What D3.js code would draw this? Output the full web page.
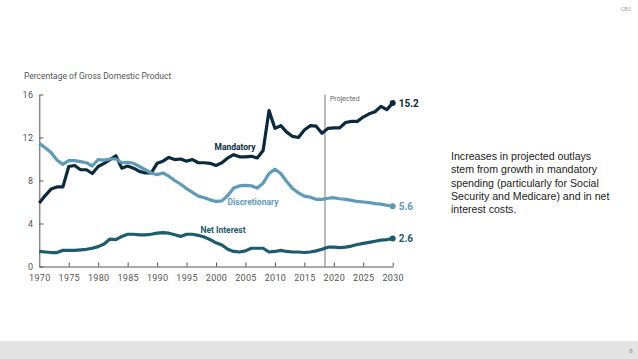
<!DOCTYPE html>
<html>
<head>
<meta charset="utf-8">
<script src="https://cdn.jsdelivr.net/npm/d3@7"></script>
<style>
  body { margin: 0; background: #fff; }
  svg { display: block; }
</style>
</head>
<body>
<svg id="chart" width="638" height="359"></svg>
<script>
// years 1970 - 2030 (projection starts after 2018)
const years = d3.range(1970, 2031);

// outlays as a percentage of GDP
const mandatory = [5.9, 6.6, 7.2, 7.4, 7.4, 9.3, 9.4, 9.0, 9.0, 8.65, 9.3, 9.6, 9.95, 10.3, 9.15,
  9.35, 9.15, 8.85, 8.7, 8.7, 9.6, 9.8, 10.15, 9.95, 10.0, 9.8, 9.95, 9.65, 9.65, 9.6,
  9.4, 9.65, 10.1, 10.4, 10.2, 10.2, 10.25, 10.1, 10.8, 14.5, 12.85, 13.1, 12.5, 12.1, 12.0,
  12.7, 13.1, 13.05, 12.4, 12.85, 12.9, 12.9, 13.4, 13.5, 13.5, 13.9, 14.2, 14.4, 14.9, 14.6, 15.2];
const discretionary = [11.45, 11.05, 10.6, 9.9, 9.5, 9.85, 9.85, 9.75, 9.65, 9.35, 9.95, 9.9, 10.0, 10.0, 9.65,
  9.7, 9.6, 9.3, 9.0, 8.7, 8.55, 8.7, 8.4, 8.0, 7.65, 7.25, 6.9, 6.55, 6.4, 6.2,
  6.05, 6.1, 6.6, 7.3, 7.5, 7.55, 7.5, 7.3, 7.75, 8.65, 9.05, 8.65, 7.9, 7.25, 6.85,
  6.55, 6.45, 6.25, 6.25, 6.35, 6.4, 6.3, 6.25, 6.15, 6.05, 6.0, 5.95, 5.85, 5.8, 5.7, 5.6];
const netInterest = [1.4, 1.35, 1.3, 1.3, 1.5, 1.5, 1.5, 1.55, 1.6, 1.7, 1.85, 2.1, 2.55, 2.5, 2.8,
  3.0, 3.0, 2.95, 2.95, 3.0, 3.1, 3.15, 3.1, 2.95, 2.8, 3.0, 3.0, 2.9, 2.75, 2.5,
  2.2, 2.0, 1.6, 1.4, 1.35, 1.45, 1.7, 1.7, 1.7, 1.35, 1.4, 1.5, 1.4, 1.35, 1.35,
  1.3, 1.35, 1.45, 1.6, 1.8, 1.8, 1.75, 1.8, 1.9, 2.05, 2.15, 2.25, 2.35, 2.45, 2.5, 2.6];

const yTicks = [0, 4, 8, 12, 16];
const xTicks = [1970, 1975, 1980, 1985, 1990, 1995, 2000, 2005, 2010, 2015, 2020, 2025, 2030];
const projectedStart = 2018.5;

const noteLines = [
  "Increases in projected outlays",
  "stem from growth in mandatory",
  "spending (particularly for Social",
  "Security and Medicare) and in net",
  "interest costs."
];

const series = [
  {name: "Mandatory", values: mandatory, color: "#0c2a3d", lx: 235, ly: 150},
  {name: "Discretionary", values: discretionary, color: "#5e9bb7", lx: 253, ly: 205},
  {name: "Net Interest", values: netInterest, color: "#1d5b6e", lx: 223, ly: 233}
];

const font = "Roboto, 'Liberation Sans', Arial, sans-serif";
const svg = d3.select("#chart");

// footer band
svg.append("rect")
  .attr("x", 0).attr("y", 341).attr("width", 638).attr("height", 18)
  .attr("fill", "#e4e4e4");
svg.append("text")
  .attr("x", 631).attr("y", 353)
  .attr("text-anchor", "middle")
  .style("font-family", font).style("font-size", "6px").style("fill", "#888")
  .text("8");
svg.append("text")
  .attr("x", 626).attr("y", 11)
  .attr("text-anchor", "middle")
  .style("font-family", font).style("font-size", "5px").style("fill", "#999")
  .text("CBO");

// scales
const x = d3.scaleLinear().domain([1970, 2030]).range([39.3, 392.7]);
const y = d3.scaleLinear().domain([0, 16]).range([266.5, 94.5]);

// axis title
svg.append("text")
  .attr("x", 24).attr("y", 79)
  .style("font-family", font).style("font-size", "8.5px").style("fill", "#555")
  .text("Percentage of Gross Domestic Product");

// y axis, ticks pointing inward
const yAxis = svg.append("g")
  .attr("transform", "translate(" + x(1970) + ",0)")
  .call(d3.axisLeft(y).tickValues(yTicks).tickSize(-4).tickPadding(6).tickSizeOuter(0));

// x axis, ticks pointing up
const xAxis = svg.append("g")
  .attr("transform", "translate(0," + y(0) + ")")
  .call(d3.axisBottom(x).tickValues(xTicks).tickFormat(d3.format("d")).tickSize(-4).tickPadding(8).tickSizeOuter(0));

[yAxis, xAxis].forEach((g) => {
  g.select(".domain").attr("stroke", "#555").attr("stroke-width", 1);
  g.selectAll(".tick line").attr("stroke", "#555");
  g.selectAll(".tick text")
    .style("font-family", font).style("font-size", "9px").style("fill", "#555")
    .style("letter-spacing", "0.3px");
});
xAxis.select(".tick line").remove();

// projected divider
svg.append("line")
  .attr("x1", x(projectedStart)).attr("x2", x(projectedStart))
  .attr("y1", y(16)).attr("y2", y(0))
  .attr("stroke", "#777").attr("stroke-width", 1);
svg.append("text")
  .attr("x", x(projectedStart) + 5).attr("y", 101)
  .style("font-family", font).style("font-size", "7px").style("fill", "#666")
  .text("Projected");

// lines
const line = d3.line()
  .x((d, i) => x(years[i]))
  .y((d) => y(d));

series.forEach((s) => {
  svg.append("path")
    .datum(s.values)
    .attr("fill", "none")
    .attr("stroke", s.color)
    .attr("stroke-width", 3.2)
    .attr("stroke-linejoin", "round")
    .attr("d", line);

  const last = s.values[s.values.length - 1];
  svg.append("circle")
    .attr("cx", x(2030)).attr("cy", y(last))
    .attr("r", 3).attr("fill", s.color);

  svg.append("text")
    .attr("x", x(2030) + 6).attr("y", y(last) + 3.5)
    .style("font-family", font).style("font-size", "10px").style("font-weight", "bold")
    .style("fill", s.color)
    .text(d3.format(".1f")(last));

  svg.append("text")
    .attr("x", s.lx).attr("y", s.ly)
    .attr("text-anchor", "middle")
    .style("font-family", font).style("font-size", "8.5px").style("font-weight", "bold")
    .style("fill", s.color)
    .text(s.name);
});

// side note
svg.append("g").selectAll("text")
  .data(noteLines)
  .enter()
  .append("text")
  .attr("x", 451)
  .attr("y", (d, i) => 160 + i * 13.3)
  .style("font-family", "'Liberation Sans', Arial, sans-serif")
  .style("font-size", "10.6px")
  .style("fill", "#222")
  .text((d) => d);
</script>
</body>
</html>
